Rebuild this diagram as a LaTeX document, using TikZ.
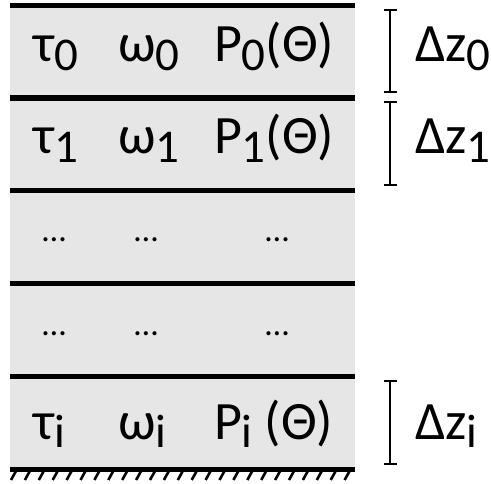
\documentclass[tikz,border=0pt]{standalone}
\usepackage{fontspec}
\setmainfont{Carlito}
\definecolor{layergray}{HTML}{E6E6E6}
\newcommand{\lsub}[1]{\raisebox{-9pt}{\fontsize{47}{47}\selectfont #1}}
\begin{document}
\begin{tikzpicture}[x=1pt,y=-1pt,
  lbl/.style={anchor=base west,inner sep=0pt,outer sep=0pt,font=\fontsize{54}{54}\selectfont},
  dotlbl/.style={anchor=base,inner sep=0pt,font=\fontsize{34}{34}\selectfont},
  layerline/.style={line width=5.5pt},
  brk/.style={line width=1.8pt},
  hatchline/.style={line width=2.6pt}]
\useasboundingbox (0,0) rectangle (491,484);
% layer fill
\fill[layergray] (10,5.5) rectangle (355,469);
% interfaces
\foreach \yy/\nm in {5.5/l0,98/l1,190.5/l2,283.5/l3,376.5/l4,469.5/l5}{
  \coordinate (\nm a) at (10,\yy);
  \coordinate (\nm b) at (355,\yy);
  \draw[layerline] (\nm a) -- (\nm b);
}
% hatch of the ground
\foreach \xx in {0,...,24}{
  \coordinate (ht\xx) at (16+13.9*\xx,471);
  \coordinate (hb\xx) at (11+13.9*\xx,480);
  \draw[hatchline] (ht\xx) -- (hb\xx);
}
% row 0
\node[lbl] (t0) at (34,62) {τ\lsub{0}};
\node[lbl] (w0) at (118,62) {ω\lsub{0}};
\node[lbl] (p0) at (214,62) {P\lsub{0}(Θ)};
\node[lbl] (dz0) at (415,62) {Δz\lsub{0}};
% row 1
\node[lbl] (t1) at (34,154) {τ\lsub{1}};
\node[lbl] (w1) at (118,154) {ω\lsub{1}};
\node[lbl] (p1) at (214,154) {P\lsub{1}(Θ)};
\node[lbl] (dz1) at (415,154) {Δz\lsub{1}};
% dots rows
\foreach \xx/\cc in {54/a,146/b,277/c}{
  \node[dotlbl] (da\cc) at (\xx,242) {…};
  \node[dotlbl] (db\cc) at (\xx,336) {…};
}
% row i
\node[lbl] (ti) at (34,439) {τ\lsub{i}};
\node[lbl] (wi) at (118,439) {ω\lsub{i}};
\node[lbl] (pi) at (214,439) {P\lsub{i} (Θ)};
\node[lbl] (dzi) at (415,439) {Δz\lsub{i}};
% thickness brackets
\foreach \ya/\yb/\nm in {10/92/b0,102/185/b1,381/464/bi}{
  \coordinate (\nm t) at (390,\ya);
  \coordinate (\nm b) at (390,\yb);
  \draw[brk] (\nm t) -- (\nm b);
  \draw[brk] ([xshift=-6.5pt]\nm t) -- ([xshift=6.5pt]\nm t);
  \draw[brk] ([xshift=-6.5pt]\nm b) -- ([xshift=6.5pt]\nm b);
}
\end{tikzpicture}
\end{document}
